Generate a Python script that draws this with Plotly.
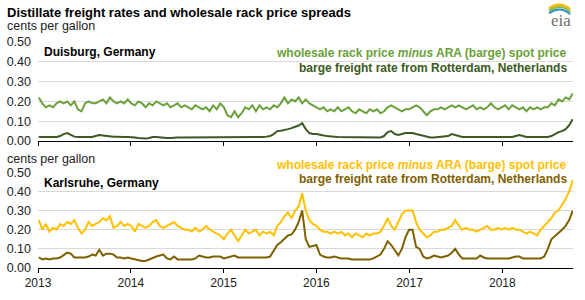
import pandas as pd
import plotly.graph_objects as go

# =========================
# Data (biweekly, cents per gallon)
# =========================
dates = pd.date_range("2013-01-04", periods=151, freq="14D")

duisburg_spread = [
    # 2013
    0.22, 0.19, 0.17, 0.18, 0.17, 0.19, 0.20, 0.19, 0.20, 0.18, 0.20, 0.16, 0.15,
    0.19, 0.20, 0.19, 0.19, 0.20, 0.21, 0.19, 0.22, 0.20, 0.19, 0.20, 0.19, 0.21,
    # 2014
    0.19, 0.18, 0.20, 0.19, 0.17, 0.19, 0.18, 0.20, 0.19, 0.18, 0.19, 0.17, 0.18,
    0.19, 0.17, 0.18, 0.17, 0.16, 0.18, 0.17, 0.16, 0.17, 0.15, 0.18, 0.16, 0.19,
    # 2015
    0.17, 0.13, 0.12, 0.15, 0.12, 0.14, 0.17, 0.16, 0.18, 0.15, 0.18, 0.16, 0.17,
    0.16, 0.18, 0.17, 0.19, 0.22, 0.19, 0.21, 0.20, 0.22, 0.19, 0.21, 0.19, 0.18,
    # 2016
    0.17, 0.16, 0.17, 0.15, 0.16, 0.15, 0.17, 0.15, 0.16, 0.17, 0.15, 0.14, 0.16,
    0.15, 0.14, 0.16, 0.15, 0.16, 0.14, 0.15, 0.17, 0.18, 0.17, 0.16, 0.15, 0.16,
    # 2017
    0.16, 0.17, 0.18, 0.17, 0.15, 0.13, 0.15, 0.16, 0.16, 0.17, 0.16, 0.17, 0.18,
    0.17, 0.18, 0.17, 0.16, 0.17, 0.18, 0.16, 0.17, 0.16, 0.17, 0.19, 0.17, 0.16,
    # 2018
    0.17, 0.18, 0.16, 0.18, 0.17, 0.16, 0.17, 0.15, 0.17, 0.16, 0.17, 0.16, 0.17,
    0.17, 0.19, 0.18, 0.21, 0.20, 0.22, 0.21, 0.24,
]

duisburg_freight = [
    # 2013
    0.020, 0.020, 0.020, 0.018, 0.018, 0.020, 0.025, 0.035, 0.040, 0.030, 0.022, 0.020, 0.020,
    0.020, 0.020, 0.020, 0.025, 0.030, 0.028, 0.025, 0.025, 0.022, 0.022, 0.020, 0.020, 0.020,
    # 2014
    0.020, 0.018, 0.015, 0.012, 0.012, 0.015, 0.020, 0.020, 0.018, 0.015, 0.015, 0.015, 0.018,
    0.018, 0.018, 0.018, 0.018, 0.020, 0.020, 0.020, 0.020, 0.020, 0.020, 0.020, 0.020, 0.020,
    # 2015
    0.018, 0.020, 0.020, 0.020, 0.020, 0.020, 0.020, 0.020, 0.020, 0.020, 0.020, 0.020, 0.022,
    0.025, 0.035, 0.050, 0.052, 0.055, 0.060, 0.065, 0.070, 0.078, 0.090, 0.060, 0.040, 0.035,
    # 2016
    0.035, 0.030, 0.028, 0.025, 0.025, 0.022, 0.020, 0.020, 0.020, 0.020, 0.018, 0.018, 0.018,
    0.018, 0.018, 0.018, 0.018, 0.018, 0.018, 0.025, 0.045, 0.050, 0.035, 0.030, 0.035, 0.040,
    # 2017
    0.040, 0.040, 0.035, 0.030, 0.025, 0.020, 0.018, 0.018, 0.020, 0.020, 0.022, 0.025, 0.035,
    0.030, 0.022, 0.020, 0.020, 0.020, 0.020, 0.020, 0.020, 0.022, 0.020, 0.020, 0.020, 0.020,
    # 2018
    0.020, 0.020, 0.020, 0.020, 0.025, 0.030, 0.025, 0.020, 0.020, 0.020, 0.020, 0.020, 0.020,
    0.020, 0.025, 0.035, 0.045, 0.050, 0.060, 0.080, 0.110,
]

karlsruhe_spread = [
    # 2013
    0.25, 0.20, 0.23, 0.19, 0.21, 0.20, 0.23, 0.22, 0.24, 0.23, 0.25, 0.21, 0.18,
    0.20, 0.24, 0.22, 0.23, 0.24, 0.26, 0.25, 0.27, 0.21, 0.22, 0.24, 0.22, 0.23,
    # 2014
    0.22, 0.19, 0.23, 0.22, 0.21, 0.22, 0.24, 0.25, 0.22, 0.21, 0.22, 0.23, 0.24,
    0.22, 0.21, 0.20, 0.20, 0.19, 0.21, 0.19, 0.20, 0.22, 0.20, 0.19, 0.18, 0.17,
    # 2015
    0.15, 0.18, 0.20, 0.17, 0.14, 0.17, 0.20, 0.18, 0.19, 0.20, 0.17, 0.19, 0.18,
    0.19, 0.17, 0.22, 0.24, 0.27, 0.29, 0.26, 0.30, 0.32, 0.39, 0.30, 0.25, 0.23,
    # 2016
    0.22, 0.20, 0.19, 0.19, 0.18, 0.19, 0.18, 0.19, 0.17, 0.18, 0.16, 0.18, 0.17,
    0.16, 0.18, 0.17, 0.18, 0.18, 0.19, 0.22, 0.26, 0.22, 0.20, 0.24, 0.28, 0.30,
    # 2017
    0.30, 0.30, 0.24, 0.20, 0.18, 0.16, 0.17, 0.19, 0.19, 0.20, 0.20, 0.21, 0.22,
    0.25, 0.22, 0.20, 0.21, 0.20, 0.20, 0.19, 0.20, 0.21, 0.22, 0.20, 0.20, 0.21,
    # 2018
    0.20, 0.21, 0.20, 0.21, 0.20, 0.20, 0.19, 0.18, 0.19, 0.18, 0.17, 0.20, 0.22,
    0.24, 0.26, 0.29, 0.30, 0.33, 0.36, 0.40, 0.46,
]

karlsruhe_freight = [
    # 2013
    0.055, 0.045, 0.050, 0.045, 0.050, 0.050, 0.055, 0.070, 0.080, 0.075, 0.055, 0.055, 0.055,
    0.055, 0.060, 0.070, 0.065, 0.095, 0.065, 0.075, 0.075, 0.070, 0.055, 0.055, 0.050, 0.055,
    # 2014
    0.050, 0.045, 0.040, 0.037, 0.037, 0.045, 0.055, 0.060, 0.065, 0.070, 0.050, 0.045, 0.060,
    0.045, 0.045, 0.045, 0.045, 0.045, 0.050, 0.065, 0.060, 0.055, 0.055, 0.060, 0.060, 0.060,
    # 2015
    0.050, 0.055, 0.060, 0.065, 0.055, 0.055, 0.055, 0.055, 0.055, 0.055, 0.055, 0.055, 0.055,
    0.060, 0.090, 0.120, 0.135, 0.150, 0.170, 0.175, 0.200, 0.240, 0.300, 0.150, 0.110, 0.115,
    # 2016
    0.120, 0.070, 0.060, 0.055, 0.055, 0.060, 0.055, 0.050, 0.050, 0.050, 0.045, 0.045, 0.045,
    0.045, 0.045, 0.045, 0.050, 0.060, 0.070, 0.100, 0.140, 0.120, 0.090, 0.066, 0.100, 0.160,
    # 2017
    0.200, 0.200, 0.110, 0.100, 0.060, 0.050, 0.055, 0.065, 0.060, 0.055, 0.060, 0.065, 0.080,
    0.100, 0.070, 0.050, 0.050, 0.050, 0.050, 0.050, 0.065, 0.055, 0.050, 0.050, 0.050, 0.050,
    # 2018
    0.050, 0.050, 0.050, 0.055, 0.060, 0.060, 0.050, 0.050, 0.050, 0.050, 0.050, 0.050, 0.060,
    0.100, 0.150, 0.165, 0.180, 0.200, 0.220, 0.250, 0.300,
]

y_ticks = [0.0, 0.1, 0.2, 0.3, 0.4, 0.5]

# =========================
# Colours / fonts
# =========================
GREEN = "#6aa13a"
DARK_GREEN = "#3b5a22"
YELLOW = "#ffc000"
BROWN = "#7f6000"
FONT = "Arial, Liberation Sans, sans-serif"

fig = go.Figure()

fig.add_trace(go.Scatter(x=dates, y=duisburg_spread, mode="lines",
                         line=dict(color=GREEN, width=2), xaxis="x", yaxis="y"))
fig.add_trace(go.Scatter(x=dates, y=duisburg_freight, mode="lines",
                         line=dict(color=DARK_GREEN, width=2), xaxis="x", yaxis="y"))
fig.add_trace(go.Scatter(x=dates, y=karlsruhe_spread, mode="lines",
                         line=dict(color=YELLOW, width=2), xaxis="x2", yaxis="y2"))
fig.add_trace(go.Scatter(x=dates, y=karlsruhe_freight, mode="lines",
                         line=dict(color=BROWN, width=2), xaxis="x2", yaxis="y2"))

x_common = dict(
    type="date", range=["2013-01-01", "2018-10-06"],
    tick0="2013-01-01", dtick="M12", tickformat="%Y",
    ticks="outside", ticklen=4, tickcolor="black",
    showline=True, linecolor="black", linewidth=1,
    showgrid=False, zeroline=False, automargin=False,
    tickfont=dict(family=FONT, size=12, color="#222222"),
)
y_common = dict(
    range=[0, 0.5], tickvals=y_ticks, tickformat=".2f",
    showgrid=True, gridcolor="#d9d9d9", gridwidth=1,
    zeroline=False, showline=False, ticks="", automargin=False,
    ticklabelstandoff=6,
    tickfont=dict(family=FONT, size=12.5, color="#222222"),
)

fig.update_layout(
    width=585, height=300,
    margin=dict(l=38, r=12, t=42, b=32),
    plot_bgcolor="white", paper_bgcolor="white",
    showlegend=False,
    xaxis=dict(**x_common, anchor="y", showticklabels=False),
    yaxis=dict(**y_common, domain=[0.562, 1.0], anchor="x"),
    xaxis2=dict(**x_common, anchor="y2", matches="x"),
    yaxis2=dict(**y_common, domain=[0.0, 0.4235], anchor="x2"),
)

# =========================
# Text
# =========================
def note(text, x, y, xref, yref, color="black", size=12, bold=False, anchor="left"):
    fig.add_annotation(
        text=f"<b>{text}</b>" if bold else text,
        x=x, y=y, xref=xref, yref=yref, xanchor=anchor, yanchor="middle",
        showarrow=False, font=dict(family=FONT, size=size, color=color),
    )

note("Distillate freight rates and wholesale rack price spreads",
     -0.062, 1.303, "x domain", "y domain", size=13, bold=True)
note("cents per gallon", -0.062, 1.162, "x domain", "y domain", size=12.5, color="#222222")
note("Duisburg, Germany", 0.007, 0.899, "x domain", "y domain", bold=True)
note("wholesale rack price <i>minus</i> ARA (barge) spot price",
     0.9925, 0.886, "x domain", "y domain", color=GREEN, bold=True, anchor="right")
note("barge freight rate from Rotterdam, Netherlands",
     0.9925, 0.734, "x domain", "y domain", color=DARK_GREEN, bold=True, anchor="right")

note("cents per gallon", -0.062, 1.139, "x2 domain", "y2 domain", size=12.5, color="#222222")
note("Karlsruhe, Germany", 0.007, 0.885, "x2 domain", "y2 domain", bold=True)
note("wholesale rack price <i>minus</i> ARA (barge) spot price",
     0.9925, 1.077, "x2 domain", "y2 domain", color=YELLOW, bold=True, anchor="right")
note("barge freight rate from Rotterdam, Netherlands",
     0.9925, 0.93, "x2 domain", "y2 domain", color=BROWN, bold=True, anchor="right")

# eia logo (text + arcs)
fig.add_annotation(text="eia", x=1.0, y=1.22, xref="x domain", yref="y domain",
                   showarrow=False, xanchor="right", yanchor="middle",
                   font=dict(family="Liberation Serif, serif", size=17, color="#707070"))
for c, dy in [("#f5b800", 0.0), ("#8dbb3c", 0.025), ("#2a8fc9", 0.05)]:
    fig.add_shape(type="path", xref="x domain", yref="y domain",
                  path=f"M 0.955,{1.34 - dy} Q 0.975,{1.42 - dy} 0.995,{1.33 - dy}",
                  line=dict(color=c, width=2))

# drop the default 8px page margin so the figure sits at the window corner
fig.write_html("out.html", config={"displayModeBar": False},
               post_script="document.body.style.margin='0';")
